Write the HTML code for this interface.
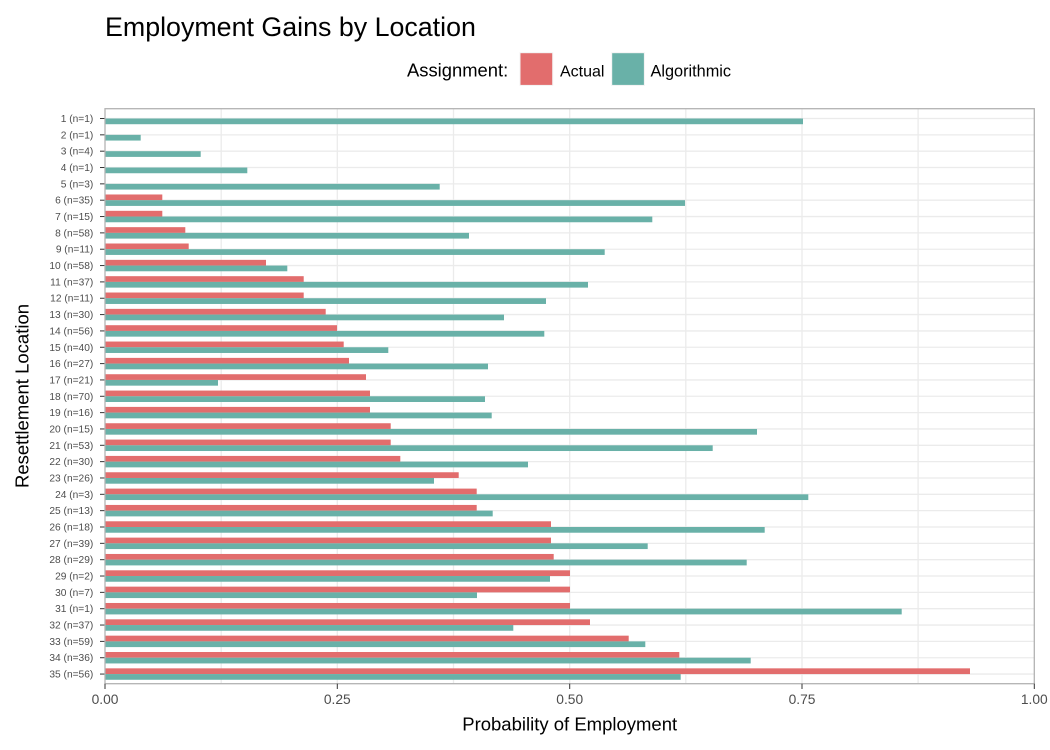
<!DOCTYPE html>
<html><head><meta charset="utf-8"><style>
html,body{margin:0;padding:0;background:#fff;}
svg{display:block;font-family:"Liberation Sans",Arial,sans-serif;}
.g{stroke:#ebebeb;stroke-width:1.3;}
.t{stroke:#333;stroke-width:1;}
.a{fill:#E26D6D;}
.b{fill:#69B1A8;}
.yl{font-size:10.2px;fill:#4d4d4d;text-anchor:end;}
</style></head><body>
<svg width="1050" height="750" viewBox="0 0 1050 750" xmlns="http://www.w3.org/2000/svg">
<rect x="0" y="0" width="1050" height="750" fill="#fff"/>
<text x="105" y="36" font-size="26.8" fill="#000">Employment Gains by Location</text>
<text x="407" y="76.5" font-size="18.4" fill="#000">Assignment:</text>
<rect x="520" y="52.7" width="32.7" height="32.7" fill="#E26D6D" stroke="#f3f3f3" stroke-width="1"/>
<text x="560" y="76.5" font-size="16" fill="#000">Actual</text>
<rect x="611.7" y="52.7" width="32.7" height="32.7" fill="#69B1A8" stroke="#f3f3f3" stroke-width="1"/>
<text x="650.5" y="76.5" font-size="16.3" fill="#000">Algorithmic</text>
<g class="g">
<line x1="221.2" x2="221.2" y1="108.7" y2="683.7"/>
<line x1="337.3" x2="337.3" y1="108.7" y2="683.7"/>
<line x1="453.5" x2="453.5" y1="108.7" y2="683.7"/>
<line x1="569.7" x2="569.7" y1="108.7" y2="683.7"/>
<line x1="685.8" x2="685.8" y1="108.7" y2="683.7"/>
<line x1="802" x2="802" y1="108.7" y2="683.7"/>
<line x1="918.1" x2="918.1" y1="108.7" y2="683.7"/>
</g>
<g transform="translate(0,118.5)"><line class="g" x1="105" x2="1034.3"/><line class="t" x1="100" x2="105"/><text class="yl" x="93.3" y="3.5">1 (n=1)</text><rect class="b" x="105" y="0" width="698" height="5.72"/></g>
<g transform="translate(0,134.84)"><line class="g" x1="105" x2="1034.3"/><line class="t" x1="100" x2="105"/><text class="yl" x="93.3" y="3.5">2 (n=1)</text><rect class="b" x="105" y="0" width="35.7" height="5.72"/></g>
<g transform="translate(0,151.18)"><line class="g" x1="105" x2="1034.3"/><line class="t" x1="100" x2="105"/><text class="yl" x="93.3" y="3.5">3 (n=4)</text><rect class="b" x="105" y="0" width="95.7" height="5.72"/></g>
<g transform="translate(0,167.52)"><line class="g" x1="105" x2="1034.3"/><line class="t" x1="100" x2="105"/><text class="yl" x="93.3" y="3.5">4 (n=1)</text><rect class="b" x="105" y="0" width="142.3" height="5.72"/></g>
<g transform="translate(0,183.86)"><line class="g" x1="105" x2="1034.3"/><line class="t" x1="100" x2="105"/><text class="yl" x="93.3" y="3.5">5 (n=3)</text><rect class="b" x="105" y="0" width="334.7" height="5.72"/></g>
<g transform="translate(0,200.2)"><line class="g" x1="105" x2="1034.3"/><line class="t" x1="100" x2="105"/><text class="yl" x="93.3" y="3.5">6 (n=35)</text><rect class="a" x="105" y="-5.72" width="57.3" height="5.72"/><rect class="b" x="105" y="0" width="580" height="5.72"/></g>
<g transform="translate(0,216.54)"><line class="g" x1="105" x2="1034.3"/><line class="t" x1="100" x2="105"/><text class="yl" x="93.3" y="3.5">7 (n=15)</text><rect class="a" x="105" y="-5.72" width="57.3" height="5.72"/><rect class="b" x="105" y="0" width="547.3" height="5.72"/></g>
<g transform="translate(0,232.88)"><line class="g" x1="105" x2="1034.3"/><line class="t" x1="100" x2="105"/><text class="yl" x="93.3" y="3.5">8 (n=58)</text><rect class="a" x="105" y="-5.72" width="80.3" height="5.72"/><rect class="b" x="105" y="0" width="364" height="5.72"/></g>
<g transform="translate(0,249.22)"><line class="g" x1="105" x2="1034.3"/><line class="t" x1="100" x2="105"/><text class="yl" x="93.3" y="3.5">9 (n=11)</text><rect class="a" x="105" y="-5.72" width="83.7" height="5.72"/><rect class="b" x="105" y="0" width="499.7" height="5.72"/></g>
<g transform="translate(0,265.56)"><line class="g" x1="105" x2="1034.3"/><line class="t" x1="100" x2="105"/><text class="yl" x="93.3" y="3.5">10 (n=58)</text><rect class="a" x="105" y="-5.72" width="161" height="5.72"/><rect class="b" x="105" y="0" width="182.3" height="5.72"/></g>
<g transform="translate(0,281.9)"><line class="g" x1="105" x2="1034.3"/><line class="t" x1="100" x2="105"/><text class="yl" x="93.3" y="3.5">11 (n=37)</text><rect class="a" x="105" y="-5.72" width="198.7" height="5.72"/><rect class="b" x="105" y="0" width="483" height="5.72"/></g>
<g transform="translate(0,298.24)"><line class="g" x1="105" x2="1034.3"/><line class="t" x1="100" x2="105"/><text class="yl" x="93.3" y="3.5">12 (n=11)</text><rect class="a" x="105" y="-5.72" width="198.7" height="5.72"/><rect class="b" x="105" y="0" width="441" height="5.72"/></g>
<g transform="translate(0,314.58)"><line class="g" x1="105" x2="1034.3"/><line class="t" x1="100" x2="105"/><text class="yl" x="93.3" y="3.5">13 (n=30)</text><rect class="a" x="105" y="-5.72" width="220.7" height="5.72"/><rect class="b" x="105" y="0" width="399" height="5.72"/></g>
<g transform="translate(0,330.92)"><line class="g" x1="105" x2="1034.3"/><line class="t" x1="100" x2="105"/><text class="yl" x="93.3" y="3.5">14 (n=56)</text><rect class="a" x="105" y="-5.72" width="232" height="5.72"/><rect class="b" x="105" y="0" width="439.3" height="5.72"/></g>
<g transform="translate(0,347.26)"><line class="g" x1="105" x2="1034.3"/><line class="t" x1="100" x2="105"/><text class="yl" x="93.3" y="3.5">15 (n=40)</text><rect class="a" x="105" y="-5.72" width="238.7" height="5.72"/><rect class="b" x="105" y="0" width="283.3" height="5.72"/></g>
<g transform="translate(0,363.6)"><line class="g" x1="105" x2="1034.3"/><line class="t" x1="100" x2="105"/><text class="yl" x="93.3" y="3.5">16 (n=27)</text><rect class="a" x="105" y="-5.72" width="244" height="5.72"/><rect class="b" x="105" y="0" width="383" height="5.72"/></g>
<g transform="translate(0,379.94)"><line class="g" x1="105" x2="1034.3"/><line class="t" x1="100" x2="105"/><text class="yl" x="93.3" y="3.5">17 (n=21)</text><rect class="a" x="105" y="-5.72" width="261" height="5.72"/><rect class="b" x="105" y="0" width="113" height="5.72"/></g>
<g transform="translate(0,396.28)"><line class="g" x1="105" x2="1034.3"/><line class="t" x1="100" x2="105"/><text class="yl" x="93.3" y="3.5">18 (n=70)</text><rect class="a" x="105" y="-5.72" width="265" height="5.72"/><rect class="b" x="105" y="0" width="380" height="5.72"/></g>
<g transform="translate(0,412.62)"><line class="g" x1="105" x2="1034.3"/><line class="t" x1="100" x2="105"/><text class="yl" x="93.3" y="3.5">19 (n=16)</text><rect class="a" x="105" y="-5.72" width="265" height="5.72"/><rect class="b" x="105" y="0" width="386.7" height="5.72"/></g>
<g transform="translate(0,428.96)"><line class="g" x1="105" x2="1034.3"/><line class="t" x1="100" x2="105"/><text class="yl" x="93.3" y="3.5">20 (n=15)</text><rect class="a" x="105" y="-5.72" width="285.7" height="5.72"/><rect class="b" x="105" y="0" width="652" height="5.72"/></g>
<g transform="translate(0,445.3)"><line class="g" x1="105" x2="1034.3"/><line class="t" x1="100" x2="105"/><text class="yl" x="93.3" y="3.5">21 (n=53)</text><rect class="a" x="105" y="-5.72" width="285.7" height="5.72"/><rect class="b" x="105" y="0" width="607.7" height="5.72"/></g>
<g transform="translate(0,461.64)"><line class="g" x1="105" x2="1034.3"/><line class="t" x1="100" x2="105"/><text class="yl" x="93.3" y="3.5">22 (n=30)</text><rect class="a" x="105" y="-5.72" width="295.3" height="5.72"/><rect class="b" x="105" y="0" width="423" height="5.72"/></g>
<g transform="translate(0,477.98)"><line class="g" x1="105" x2="1034.3"/><line class="t" x1="100" x2="105"/><text class="yl" x="93.3" y="3.5">23 (n=26)</text><rect class="a" x="105" y="-5.72" width="353.7" height="5.72"/><rect class="b" x="105" y="0" width="329" height="5.72"/></g>
<g transform="translate(0,494.32)"><line class="g" x1="105" x2="1034.3"/><line class="t" x1="100" x2="105"/><text class="yl" x="93.3" y="3.5">24 (n=3)</text><rect class="a" x="105" y="-5.72" width="371.7" height="5.72"/><rect class="b" x="105" y="0" width="703.3" height="5.72"/></g>
<g transform="translate(0,510.66)"><line class="g" x1="105" x2="1034.3"/><line class="t" x1="100" x2="105"/><text class="yl" x="93.3" y="3.5">25 (n=13)</text><rect class="a" x="105" y="-5.72" width="371.7" height="5.72"/><rect class="b" x="105" y="0" width="387.7" height="5.72"/></g>
<g transform="translate(0,527)"><line class="g" x1="105" x2="1034.3"/><line class="t" x1="100" x2="105"/><text class="yl" x="93.3" y="3.5">26 (n=18)</text><rect class="a" x="105" y="-5.72" width="446" height="5.72"/><rect class="b" x="105" y="0" width="659.7" height="5.72"/></g>
<g transform="translate(0,543.34)"><line class="g" x1="105" x2="1034.3"/><line class="t" x1="100" x2="105"/><text class="yl" x="93.3" y="3.5">27 (n=39)</text><rect class="a" x="105" y="-5.72" width="446" height="5.72"/><rect class="b" x="105" y="0" width="542.7" height="5.72"/></g>
<g transform="translate(0,559.68)"><line class="g" x1="105" x2="1034.3"/><line class="t" x1="100" x2="105"/><text class="yl" x="93.3" y="3.5">28 (n=29)</text><rect class="a" x="105" y="-5.72" width="448.7" height="5.72"/><rect class="b" x="105" y="0" width="641.7" height="5.72"/></g>
<g transform="translate(0,576.02)"><line class="g" x1="105" x2="1034.3"/><line class="t" x1="100" x2="105"/><text class="yl" x="93.3" y="3.5">29 (n=2)</text><rect class="a" x="105" y="-5.72" width="465" height="5.72"/><rect class="b" x="105" y="0" width="445" height="5.72"/></g>
<g transform="translate(0,592.36)"><line class="g" x1="105" x2="1034.3"/><line class="t" x1="100" x2="105"/><text class="yl" x="93.3" y="3.5">30 (n=7)</text><rect class="a" x="105" y="-5.72" width="465" height="5.72"/><rect class="b" x="105" y="0" width="372" height="5.72"/></g>
<g transform="translate(0,608.7)"><line class="g" x1="105" x2="1034.3"/><line class="t" x1="100" x2="105"/><text class="yl" x="93.3" y="3.5">31 (n=1)</text><rect class="a" x="105" y="-5.72" width="465" height="5.72"/><rect class="b" x="105" y="0" width="796.7" height="5.72"/></g>
<g transform="translate(0,625.04)"><line class="g" x1="105" x2="1034.3"/><line class="t" x1="100" x2="105"/><text class="yl" x="93.3" y="3.5">32 (n=37)</text><rect class="a" x="105" y="-5.72" width="485" height="5.72"/><rect class="b" x="105" y="0" width="408.3" height="5.72"/></g>
<g transform="translate(0,641.38)"><line class="g" x1="105" x2="1034.3"/><line class="t" x1="100" x2="105"/><text class="yl" x="93.3" y="3.5">33 (n=59)</text><rect class="a" x="105" y="-5.72" width="523.7" height="5.72"/><rect class="b" x="105" y="0" width="540.3" height="5.72"/></g>
<g transform="translate(0,657.72)"><line class="g" x1="105" x2="1034.3"/><line class="t" x1="100" x2="105"/><text class="yl" x="93.3" y="3.5">34 (n=36)</text><rect class="a" x="105" y="-5.72" width="574.3" height="5.72"/><rect class="b" x="105" y="0" width="645.7" height="5.72"/></g>
<g transform="translate(0,674.06)"><line class="g" x1="105" x2="1034.3"/><line class="t" x1="100" x2="105"/><text class="yl" x="93.3" y="3.5">35 (n=56)</text><rect class="a" x="105" y="-5.72" width="865" height="5.72"/><rect class="b" x="105" y="0" width="575.7" height="5.72"/></g>
<rect x="105" y="108.7" width="929.3" height="575" fill="none" stroke="#b3b3b3" stroke-width="1.3"/>
<g class="t">
<line x1="105" x2="105" y1="683.7" y2="689"/>
<line x1="337.3" x2="337.3" y1="683.7" y2="689"/>
<line x1="569.7" x2="569.7" y1="683.7" y2="689"/>
<line x1="802" x2="802" y1="683.7" y2="689"/>
<line x1="1034.3" x2="1034.3" y1="683.7" y2="689"/>
</g>
<g font-size="13.8" fill="#4d4d4d" text-anchor="middle">
<text x="105" y="704">0.00</text>
<text x="337.3" y="704">0.25</text>
<text x="569.7" y="704">0.50</text>
<text x="802" y="704">0.75</text>
<text x="1034.3" y="704">1.00</text>
</g>
<text x="569.7" y="730.5" font-size="18.5" fill="#000" text-anchor="middle">Probability of Employment</text>
<text transform="translate(28.5,396) rotate(-90)" font-size="18.5" fill="#000" text-anchor="middle">Resettlement Location</text>
</svg>
</body></html>
